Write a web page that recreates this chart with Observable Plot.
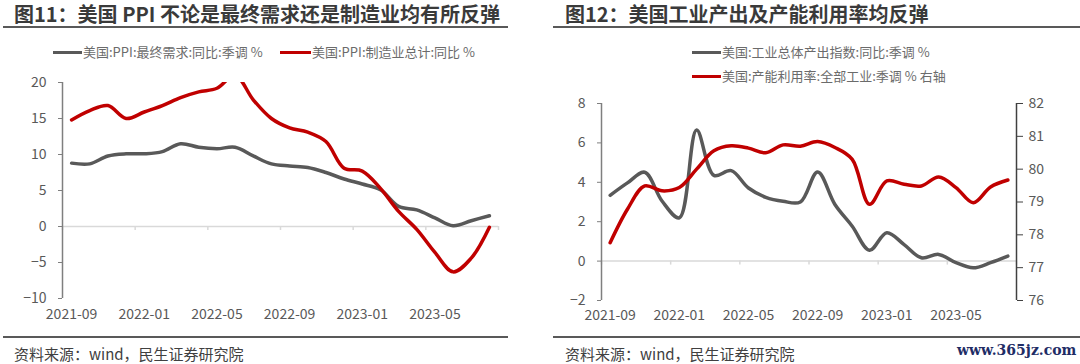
<!DOCTYPE html>
<html>
<head>
<meta charset="utf-8">
<script src="https://cdn.jsdelivr.net/npm/d3@7"></script>
<script src="https://cdn.jsdelivr.net/npm/@observablehq/plot@0.6"></script>
<style>
  html, body { margin: 0; padding: 0; background: #fff; }
  #root { position: relative; width: 1080px; height: 364px; overflow: hidden; background: #fff;
          font-family: "Noto Sans CJK SC", "Noto Sans", sans-serif; }
  .abs { position: absolute; white-space: nowrap; }
  .title { font-size: 20px; font-weight: bold; color: #3a3a3a; line-height: 20px; }
  .rule { position: absolute; height: 0; border-top: 2px solid #595959; }
  .leg { font-size: 13px; color: #6b6b6b; line-height: 14px; display: flex; align-items: center; }
  .sw { display: inline-block; width: 29px; height: 0; border-top: 3.5px solid; margin-right: 1px; }
  .src { font-size: 15px; color: #404040; line-height: 16px; }
  .wm { font-family: "DejaVu Serif", serif; font-weight: bold; font-size: 14px; color: #1f2d66; line-height: 16px; }
</style>
</head>
<body>
<div id="root">
  <div class="abs title" style="left:14px;top:4px">图11：美国 PPI 不论是最终需求还是制造业均有所反弹</div>
  <div class="rule" style="left:3px;width:505px;top:26px"></div>
  <div class="abs leg" style="left:53px;top:45px"><span class="sw" style="border-color:#595959"></span>美国:PPI:最终需求:同比:季调 %</div>
  <div class="abs leg" style="left:280px;top:45px"><span class="sw" style="border-color:#c00000;width:31px"></span>美国:PPI:制造业总计:同比 %</div>
  <div id="c1" class="abs" style="left:0;top:0"></div>
  <div class="rule" style="left:3px;width:505px;top:336px"></div>
  <div class="abs src" style="left:14px;top:346px">资料来源：wind，民生证券研究院</div>

  <div class="abs title" style="left:565px;top:4px">图12：美国工业产出及产能利用率均反弹</div>
  <div class="rule" style="left:553px;width:527px;top:26px"></div>
  <div class="abs leg" style="left:692px;top:45px"><span class="sw" style="border-color:#595959"></span>美国:工业总体产出指数:同比:季调 %</div>
  <div class="abs leg" style="left:692px;top:69px"><span class="sw" style="border-color:#c00000"></span>美国:产能利用率:全部工业:季调 % 右轴</div>
  <div id="c2" class="abs" style="left:540px;top:0"></div>
  <div class="rule" style="left:553px;width:527px;top:336px"></div>
  <div class="abs src" style="left:565px;top:346px">资料来源：wind，民生证券研究院</div>
  <div class="abs wm" style="left:957px;top:342px">www.365jz.com</div>
</div>
<script>
// ---- data ----
const months = ["2021-09","2021-10","2021-11","2021-12","2022-01","2022-02","2022-03","2022-04",
  "2022-05","2022-06","2022-07","2022-08","2022-09","2022-10","2022-11","2022-12",
  "2023-01","2023-02","2023-03","2023-04","2023-05","2023-06","2023-07","2023-08"];
const ppiFinalDemand = [8.8,8.7,9.8,10.1,10.1,10.4,11.5,11.0,10.8,11.0,9.8,8.7,8.4,8.2,7.5,6.6,5.9,5.1,2.8,2.3,1.2,0.1,0.8,1.5];
const ppiManufacturing = [14.8,16.1,16.8,15.0,15.9,16.8,17.9,18.7,19.2,21.0,17.6,15.0,13.7,13.1,11.8,8.1,7.7,5.3,2.1,-0.4,-3.6,-6.3,-4.4,-0.1];
const ipYoy = [3.34,3.97,4.51,3.05,2.2,6.65,4.35,4.59,3.71,3.24,3.04,3.0,4.52,2.87,1.77,0.55,1.44,0.84,0.17,0.34,-0.08,-0.34,-0.08,0.25];
const capUtil = [77.76,78.78,79.49,79.34,79.44,80.0,80.56,80.71,80.64,80.5,80.74,80.7,80.84,80.66,80.3,78.93,79.64,79.54,79.49,79.76,79.44,78.98,79.46,79.67];
const leftTicks1 = [-10,-5,0,5,10,15,20];
const leftTicks2 = [-2,0,2,4,6,8];
const rightTicks2 = [76,77,78,79,80,81,82];
const labelIdx = [0,4,8,12,16,20];

const FONT = "'Noto Sans CJK SC', 'Noto Sans', sans-serif";
const bounds = d3.range(0, months.length + 1, 4).map(i => i - 0.5);
const idx = (d, i) => i;

// ---- chart 1 ----
const c1 = Plot.plot({
  width: 540, height: 364,
  marginTop: 82, marginBottom: 66, marginLeft: 62, marginRight: 42,
  style: {fontFamily: FONT, fontSize: "14px", color: "#595959", background: "transparent", overflow: "visible"},
  x: {type: "linear", domain: [-0.5, months.length - 0.5]},
  y: {domain: [-10, 20]},
  marks: [
    Plot.ruleY([0], {stroke: "#d9d9d9", strokeWidth: 1.5}),
    Plot.ruleX(bounds, {y1: 0, y2: -4 / 7.2, stroke: "#d9d9d9", strokeWidth: 1.5}),
    Plot.ruleX([-0.5], {stroke: "#7f7f7f", strokeWidth: 1.5}),
    Plot.axisY({ticks: leftTicks1, tickSize: 4, tickPadding: 12, stroke: "#7f7f7f", fill: "#595959", label: null}),
    Plot.axisX({ticks: labelIdx, tickFormat: i => months[i], tickSize: 0, tickPadding: 11, fill: "#595959", label: null}),
    Plot.line(ppiFinalDemand, {x: idx, y: d => d, stroke: "#595959", strokeWidth: 3.5, curve: "catmull-rom"}),
    Plot.line(ppiManufacturing, {x: idx, y: d => d, stroke: "#c00000", strokeWidth: 3.5, curve: "catmull-rom", clip: true})
  ]
});
document.getElementById("c1").appendChild(c1);

// ---- chart 2 (dual axis) ----
const toLeft = v => -2 + (v - 76) * 10 / 6;
const fromLeft = y => Math.round(76 + (y + 2) * 6 / 10);
const c2 = Plot.plot({
  width: 540, height: 364,
  marginTop: 103, marginBottom: 64, marginLeft: 61, marginRight: 64,
  style: {fontFamily: FONT, fontSize: "14px", color: "#595959", background: "transparent", overflow: "visible"},
  x: {type: "linear", domain: [-0.5, months.length - 0.5]},
  y: {domain: [-2, 8]},
  marks: [
    Plot.ruleY([0], {stroke: "#d9d9d9", strokeWidth: 1.5}),
    Plot.ruleX(bounds, {y1: 0, y2: -4 / 19.75, stroke: "#d9d9d9", strokeWidth: 1.5}),
    Plot.ruleX([-0.5], {stroke: "#7f7f7f", strokeWidth: 1.5}),
    Plot.ruleX([months.length - 0.5], {stroke: "#404040", strokeWidth: 1.5}),
    Plot.axisY({ticks: leftTicks2, tickSize: 4, tickPadding: 12, stroke: "#7f7f7f", fill: "#595959", label: null}),
    Plot.axisY({anchor: "right", ticks: rightTicks2.map(toLeft), tickFormat: fromLeft, tickSize: 6, tickPadding: 6, stroke: "#404040", fill: "#595959", label: null}),
    Plot.axisX({ticks: labelIdx, tickFormat: i => months[i], tickSize: 0, tickPadding: 10, fill: "#595959", label: null}),
    Plot.line(ipYoy, {x: idx, y: d => d, stroke: "#595959", strokeWidth: 3.5, curve: "catmull-rom"}),
    Plot.line(capUtil, {x: idx, y: d => toLeft(d), stroke: "#c00000", strokeWidth: 3.5, curve: "catmull-rom"})
  ]
});
document.getElementById("c2").appendChild(c2);
</script>
</body>
</html>
